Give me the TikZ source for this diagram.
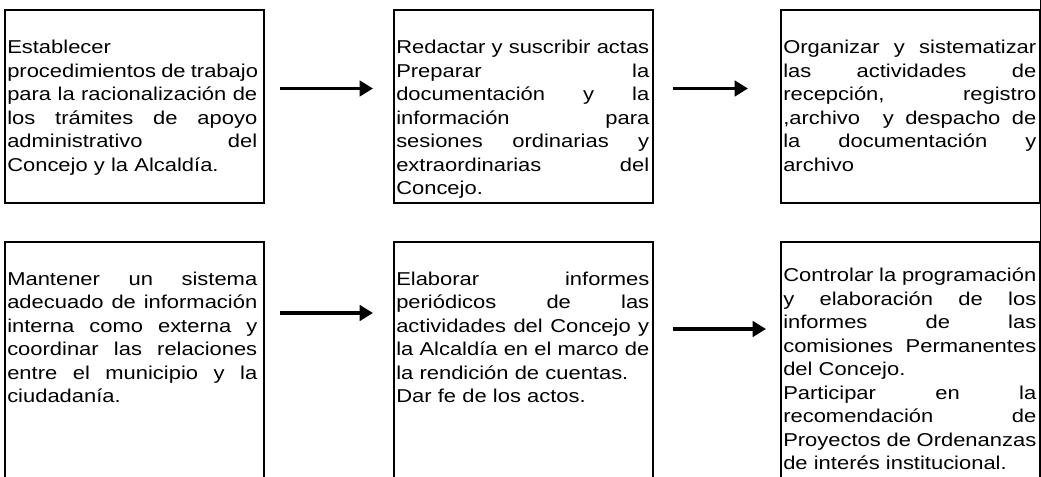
\documentclass[tikz,border=0pt]{standalone}
\usepackage{fontspec}
\setmainfont[FakeStretch=1.18]{Liberation Sans}
\usetikzlibrary{arrows.meta}
\hbadness=10000
\hfuzz=20pt
\newcommand{\jfill}[2]{\leavevmode\hbox to #1{\spaceskip=.28em plus 1fil\xspaceskip=.28em plus 1fil\relax #2}}
\newcommand{\jn}[1]{\jfill{187.5pt}{#1}}
\newcommand{\jw}[1]{\jfill{189.75pt}{#1}}
\begin{document}
\begin{tikzpicture}[x=0.75pt,y=-0.75pt,
  boxnode/.style={draw, line width=1.5pt, inner sep=0pt, anchor=north west,
    minimum width=194.6pt},
  toprow/.style={boxnode, minimum height=144.4pt},
  botrow/.style={boxnode, minimum height=190pt},
  txt/.style={anchor=base west, inner sep=0pt, align=left,
    font=\fontsize{13.95pt}{17.65pt}\selectfont},
  narrowtxt/.style={txt, text width=187.5pt},
  widetxt/.style={txt, text width=189.75pt},
  arr/.style={line width=2.5pt, -{Triangle[length=10pt,width=11.5pt]}},
  edge/.style={line width=1pt}]
\useasboundingbox (0,0) rectangle (1041,477);
\clip (0,0) rectangle (1041,477);

% boxes
\node[toprow] (b1) at (4,9.5) {};
\node[toprow] (b2) at (393,9.5) {};
\node[toprow] (b3) at (779.5,9.5) {};
\node[botrow] (b4) at (4,241) {};
\node[botrow] (b5) at (393,241) {};
\node[botrow] (b6) at (779.5,241) {};

% texts
\node[narrowtxt] (t1) at (7,53.5) {Establecer\\
\jn{procedimientos de trabajo}\\
\jn{para la racionalización de}\\
\jn{los trámites de apoyo}\\
\jn{administrativo del}\\
Concejo y la Alcaldía.};

\node[widetxt] (t2) at (396,53.5) {\jw{Redactar y suscribir actas}\\
\jw{Preparar la}\\
\jw{documentación y la}\\
\jw{información para}\\
\jw{sesiones ordinarias y}\\
\jw{extraordinarias del}\\
Concejo.};

\node[widetxt] (t3) at (783,53.5) {\jw{Organizar y sistematizar}\\
\jw{las actividades de}\\
\jw{recepción, registro}\\
\jw{,archivo \ y despacho de}\\
\jw{la documentación y}\\
archivo};

\node[narrowtxt] (t4) at (7,285) {\jn{Mantener un sistema}\\
\jn{adecuado de información}\\
\jn{interna como externa y}\\
\jn{coordinar las relaciones}\\
\jn{entre el municipio y la}\\
ciudadanía.};

\node[widetxt] (t5) at (396,285) {\jw{Elaborar informes}\\
\jw{periódicos de las}\\
\jw{actividades del Concejo y}\\
\jw{la Alcaldía en el marco de}\\
la rendición de cuentas.\\
Dar fe de los actos.};

\node[widetxt] (t6) at (783,281.5) {\jw{Controlar la programación}\\
\jw{y elaboración de los}\\
\jw{informes de las}\\
\jw{comisiones Permanentes}\\
del Concejo.\\
\jw{Participar en la}\\
\jw{recomendación de}\\
\jw{Proyectos de Ordenanzas}\\
de interés institucional.};

% arrows
\coordinate (a1s) at (280,88.5);
\coordinate (a1e) at (373,88.5);
\coordinate (a2s) at (673,88.5);
\coordinate (a2e) at (748,88.5);
\coordinate (a3s) at (280,313);
\coordinate (a3e) at (373,313);
\coordinate (a4s) at (673,329);
\coordinate (a4e) at (766,329);
\draw[arr] (a1s) -- (a1e);
\draw[arr] (a2s) -- (a2e);
\draw[arr] (a3s) -- (a3e);
\draw[arr] (a4s) -- (a4e);

% right page edge line
\coordinate (rt) at (1040.5,0);
\coordinate (rb) at (1040.5,241);
\draw[edge] (rt) -- (rb);
\end{tikzpicture}
\end{document}
